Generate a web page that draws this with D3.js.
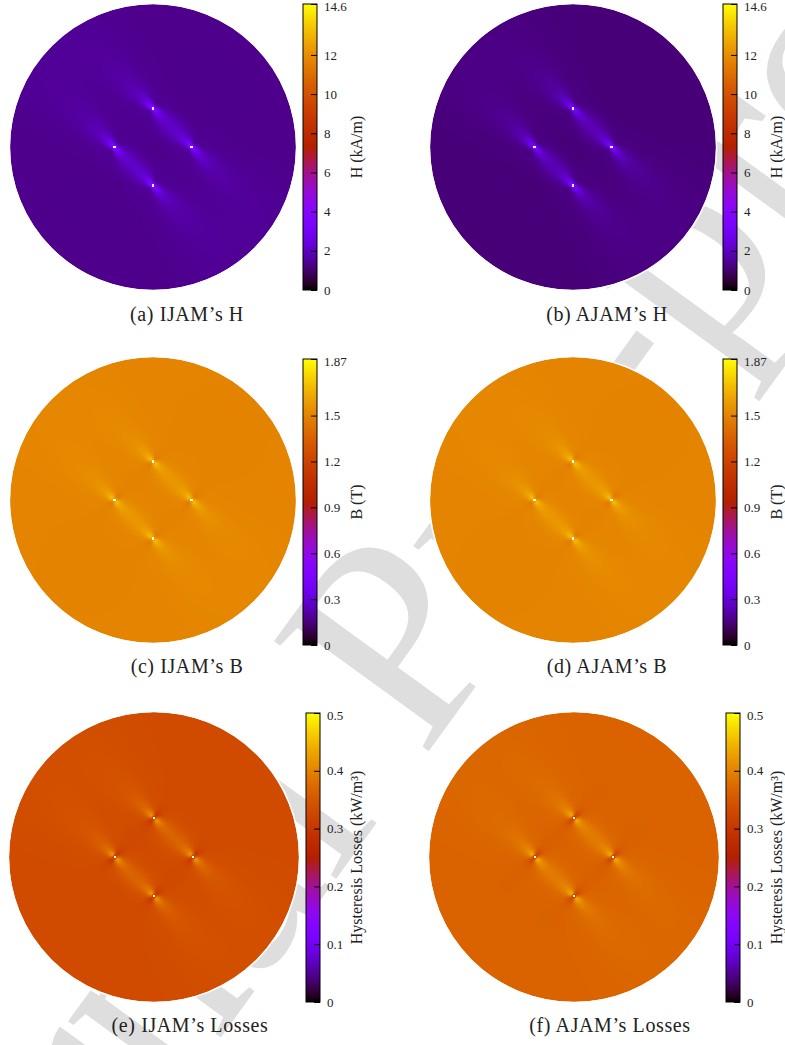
<!DOCTYPE html>
<html>
<head>
<meta charset="utf-8">
<script src="https://cdn.jsdelivr.net/npm/d3@7"></script>
<style>
  body { margin: 0; background: #fff; }
  svg { display: block; }
</style>
</head>
<body>
<div id="fig"></div>
<script>
// ---------------------------//
//            DATA            //
// ---------------------------//
var panelLabels = ["(a) IJAM’s H", "(b) AJAM’s H", "(c) IJAM’s B", "(d) AJAM’s B", "(e) IJAM’s Losses", "(f) AJAM’s Losses"];
var barTitles = ["H (kA/m)", "H (kA/m)", "B (T)", "B (T)", "Hysteresis Losses (kW/m³)", "Hysteresis Losses (kW/m³)"];
var barMax = [14.6, 14.6, 1.87, 1.87, 0.5, 0.5];
var barTicks = [
  [0, 2, 4, 6, 8, 10, 12, 14.6],
  [0, 2, 4, 6, 8, 10, 12, 14.6],
  [0, 0.3, 0.6, 0.9, 1.2, 1.5, 1.87],
  [0, 0.3, 0.6, 0.9, 1.2, 1.5, 1.87],
  [0, 0.1, 0.2, 0.3, 0.4, 0.5],
  [0, 0.1, 0.2, 0.3, 0.4, 0.5]
];
// value far from the holes, peak value in the NW-SE lobes, low value on the NE-SW sides
var bulkValue   = [1.35, 1.15, 1.50, 1.50, 0.333, 0.365];
var lobeValue   = [5.0, 4.6, 1.84, 1.84, 0.49, 0.50];
var shadowValue = [0.3, 0.3, 1.05, 1.05, 0.0, 0.0];
// the four holes, in units of the disk radius (y up)
var holeX = [0, -0.27, 0.27, 0];
var holeY = [0.27, 0, 0, -0.27];
var holeRadius = 0.009;

// ---------------------------//
//           LAYOUT           //
// ---------------------------//
var W = 785, H = 1045;
var rows = [
  {cx: 153, cy: 147, r: 143, barX: 303, barTop: 4,   barBot: 290,  labelX: 357, capY: 321},
  {cx: 153, cy: 500, r: 143, barX: 303, barTop: 359, barBot: 645,  labelX: 357, capY: 673},
  {cx: 154, cy: 857, r: 145, barX: 306, barTop: 713, barBot: 1002, labelX: 357, capY: 1032}
];
var colShift = 420, barW = 14;

var svg = d3.select("#fig").append("svg")
  .attr("width", W).attr("height", H)
  .style("font-family", "'Liberation Serif', 'Times New Roman', serif");

// watermark behind everything
svg.append("text")
  .attr("transform", "translate(395,625) rotate(-54)")
  .attr("text-anchor", "middle")
  .attr("dy", "0.35em")
  .style("font-size", "290px")
  .style("fill", "#dedede")
  .text("Journal Pre-proof");

// gnuplot's default palette (rgbformulae 7,5,15)
function gnuplotColor(t) {
  return d3.rgb(255 * Math.sqrt(t), 255 * t * t * t, 255 * Math.max(0, Math.sin(2 * Math.PI * t)));
}

function fieldValue(p, x, y) {
  var base = bulkValue[p], v = base;
  for (var h = 0; h < holeX.length; h++) {
    var dx = x - holeX[h], dy = y - holeY[h];
    if (Math.sqrt(dx * dx + dy * dy) < holeRadius) return NaN;
    var u = (dx - dy) / Math.SQRT2;   // along NW-SE
    var w = (dx + dy) / Math.SQRT2;   // along NE-SW
    var lobe = Math.exp(-Math.pow(w / (0.018 + 0.3 * Math.abs(u)), 2)) / Math.pow(1 + Math.abs(u) / 0.045, 1.4);
    var shade = Math.exp(-Math.pow(u / (0.012 + 0.35 * Math.abs(w)), 2)) / Math.pow(1 + Math.abs(w) / 0.018, 2);
    v += (lobeValue[p] - base) * lobe - (base - shadowValue[p]) * shade;
  }
  return v;
}

var defs = svg.append("defs");

for (var p = 0; p < 6; p++) {
  var row = rows[Math.floor(p / 2)], col = p % 2;
  var cx = row.cx + col * colShift, cy = row.cy, R = row.r;
  var color = d3.scaleSequential(gnuplotColor).domain([0, barMax[p]]).clamp(true);

  // ----- field map -----
  var size = 2 * R;
  var px = d3.scaleLinear().domain([-1, 1]).range([0, size]);
  var py = d3.scaleLinear().domain([1, -1]).range([0, size]);
  var canvas = d3.create("canvas").attr("width", size).attr("height", size).node();
  var ctx = canvas.getContext("2d");
  var img = ctx.createImageData(size, size);
  for (var j = 0; j < size; j++) {
    for (var i = 0; i < size; i++) {
      var x = px.invert(i + 0.5), y = py.invert(j + 0.5);
      var k = 4 * (j * size + i);
      if (x * x + y * y > 1.02) { img.data[k + 3] = 0; continue; }
      var val = fieldValue(p, x, y);
      var c = isNaN(val) ? d3.rgb(255, 255, 255) : color(val);
      img.data[k] = c.r; img.data[k + 1] = c.g; img.data[k + 2] = c.b; img.data[k + 3] = 255;
    }
  }
  ctx.putImageData(img, 0, 0);

  defs.append("clipPath").attr("id", "disk" + p)
    .append("circle").attr("cx", cx).attr("cy", cy).attr("r", R);
  svg.append("image")
    .attr("href", canvas.toDataURL())
    .attr("x", cx - R).attr("y", cy - R)
    .attr("width", size).attr("height", size)
    .attr("clip-path", "url(#disk" + p + ")");
  svg.append("circle")
    .attr("cx", cx).attr("cy", cy).attr("r", R + 0.6)
    .style("fill", "none").style("stroke", "#fff").style("stroke-width", 1.5);

  // ----- colour bar -----
  var bx = row.barX + col * colShift;
  var grad = defs.append("linearGradient").attr("id", "grad" + p)
    .attr("x1", 0).attr("y1", 1).attr("x2", 0).attr("y2", 0);
  d3.range(0, 1.0001, 0.02).forEach(function(t) {
    grad.append("stop").attr("offset", t).attr("stop-color", color(t * barMax[p]));
  });
  svg.append("rect")
    .attr("x", bx).attr("y", row.barTop)
    .attr("width", barW).attr("height", row.barBot - row.barTop)
    .style("fill", "url(#grad" + p + ")")
    .style("stroke", "#000").style("stroke-width", 1);

  var yBar = d3.scaleLinear().domain([0, barMax[p]]).range([row.barBot, row.barTop]);
  var axis = svg.append("g")
    .attr("transform", "translate(" + (bx + barW) + ",0)")
    .call(d3.axisRight(yBar).tickValues(barTicks[p]).tickSize(-6).tickPadding(7)
      .tickFormat(function(d) { return String(d); }));
  axis.select(".domain").remove();
  axis.attr("font-family", null).attr("font-size", null);
  axis.selectAll("text").style("font-size", "13px").style("fill", "#222")
    .attr("dy", function(d) { return d === barMax[p] ? "0.5em" : "0.32em"; });
  axis.selectAll("line").style("stroke", "#000");

  svg.append("text")
    .attr("transform", "translate(" + (row.labelX + col * colShift) + "," + ((row.barTop + row.barBot) / 2) + ") rotate(-90)")
    .attr("text-anchor", "middle")
    .attr("dy", "0.33em")
    .style("font-size", "16px")
    .style("fill", "#222")
    .text(barTitles[p]);

  // ----- caption -----
  svg.append("text")
    .attr("x", 187 + col * colShift + (p >= 4 ? 3 : 0))
    .attr("y", row.capY)
    .attr("text-anchor", "middle")
    .style("font-size", "20px")
    .style("letter-spacing", "0.6px")
    .style("fill", "#222")
    .text(panelLabels[p]);
}
</script>
</body>
</html>
